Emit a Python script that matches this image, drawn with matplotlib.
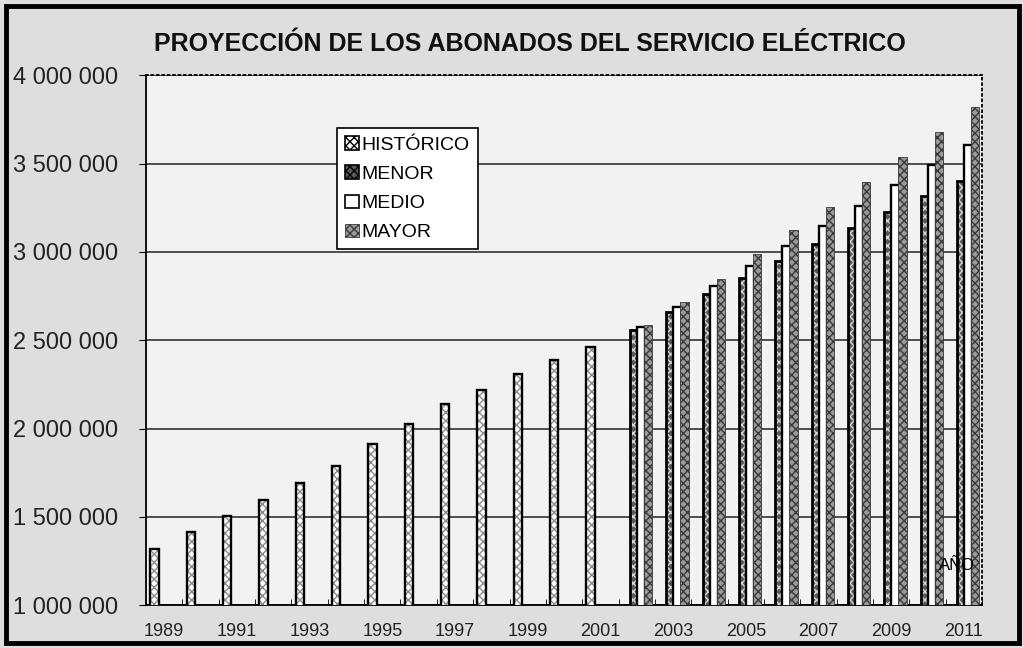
import matplotlib.pyplot as plt
import numpy as np
from matplotlib.patches import Rectangle, Patch

plt.rcParams['font.family'] = ['Liberation Sans', 'DejaVu Sans']

anios = list(range(1989, 2012))
historico = [1318000, 1415000, 1506000, 1593000, 1693000, 1790000, 1915000,
             2028000, 2138000, 2220000, 2309000, 2386000, 2459000]
anios_proy = list(range(2002, 2012))
menor = [2557000, 2658000, 2760000, 2853000, 2947000, 3042000, 3136000, 3226000, 3318000, 3402000]
medio = [2574000, 2687000, 2806000, 2919000, 3032000, 3145000, 3260000, 3377000, 3490000, 3604000]
mayor = [2585000, 2715000, 2849000, 2987000, 3126000, 3255000, 3396000, 3538000, 3679000, 3820000]

fig = plt.figure(figsize=(10.23, 6.48), dpi=100, facecolor='#dedede')
ax = fig.add_axes([0.1427, 0.066, 0.8173, 0.818])
ax.set_facecolor('#f2f2f2')

x_h = np.arange(len(historico))
x_p = np.arange(len(anios_proy)) + (2002 - 1989)
w = 0.23

# histórico
ax.bar(x_h - 0.27, historico, w, color='white', hatch='xxxx', edgecolor='#8a8a8a', linewidth=0, zorder=3)
ax.bar(x_h - 0.27, historico, w, fill=False, edgecolor='black', linewidth=1.7, zorder=4)
# menor
ax.bar(x_p - 0.07, menor, w, color='#5a5a5a', hatch='xxxx', edgecolor='#d8d8d8', linewidth=0, zorder=3)
ax.bar(x_p - 0.07, menor, w, fill=False, edgecolor='black', linewidth=2.0, zorder=4)
# medio
ax.bar(x_p + 0.12, medio, w, color='white', edgecolor='black', linewidth=1.7, zorder=5)
# mayor
ax.bar(x_p + 0.31, mayor, w, color='#9a9a9a', hatch='xxxx', edgecolor='#3a3a3a', linewidth=0.6, zorder=6)

ax.set_xlim(-0.5, len(anios) - 0.5)
ax.set_ylim(1000000, 4000000)
yt = np.arange(1000000, 4000001, 500000)
ax.set_yticks(yt)
ax.set_yticklabels(['{:,}'.format(v).replace(',', ' ') for v in yt], fontsize=17, color='#222222')
ax.set_xticks(np.arange(0, len(anios), 2))
ax.set_xticklabels([str(a) for a in anios[::2]], fontsize=13, color='#222222')
ax.set_xticks(np.arange(-0.5, len(anios), 1), minor=True)
ax.tick_params(axis='x', which='major', length=0, pad=13)
ax.tick_params(axis='x', which='minor', length=4, direction='in')
ax.tick_params(axis='y', length=5, pad=15)

ax.grid(axis='y', color='#333333', linewidth=1.2, zorder=1)
ax.spines['top'].set_linestyle((0, (1, 2)))
ax.spines['right'].set_linestyle((0, (1, 2)))
for s in ax.spines.values():
    s.set_linewidth(1.3)

handles = [Patch(facecolor='white', hatch='xxxx', edgecolor='black', linewidth=1.2),
           Patch(facecolor='#5a5a5a', hatch='xxxx', edgecolor='black', linewidth=1.2),
           Patch(facecolor='white', edgecolor='black', linewidth=1.2),
           Patch(facecolor='#9a9a9a', hatch='xxxx', edgecolor='#3a3a3a', linewidth=0.6)]
leg = ax.legend(handles, ['HISTÓRICO', 'MENOR', 'MEDIO', 'MAYOR'],
                loc='upper left', bbox_to_anchor=(0.229, 0.90),
                fontsize=14, frameon=True, fancybox=False, edgecolor='black', framealpha=1,
                handlelength=0.7, handleheight=0.7, handletextpad=0.15,
                labelspacing=0.6, borderpad=0.4, borderaxespad=0)
leg.get_frame().set_linewidth(1.2)
leg.set_zorder(10)

ax.text(21.8, 1226000, 'AÑO', fontsize=12, ha='center', va='center', zorder=8)

fig.text(0.518, 0.932, 'PROYECCIÓN DE LOS ABONADOS DEL SERVICIO ELÉCTRICO',
         fontsize=18, fontweight='bold', ha='center', va='center', color='#111111')

fig.patches.append(Rectangle((0.006, 0.008), 0.99, 0.982, transform=fig.transFigure,
                             fill=False, edgecolor='black', linewidth=3.5))

fig.savefig('out.png', dpi=100, facecolor=fig.get_facecolor())
